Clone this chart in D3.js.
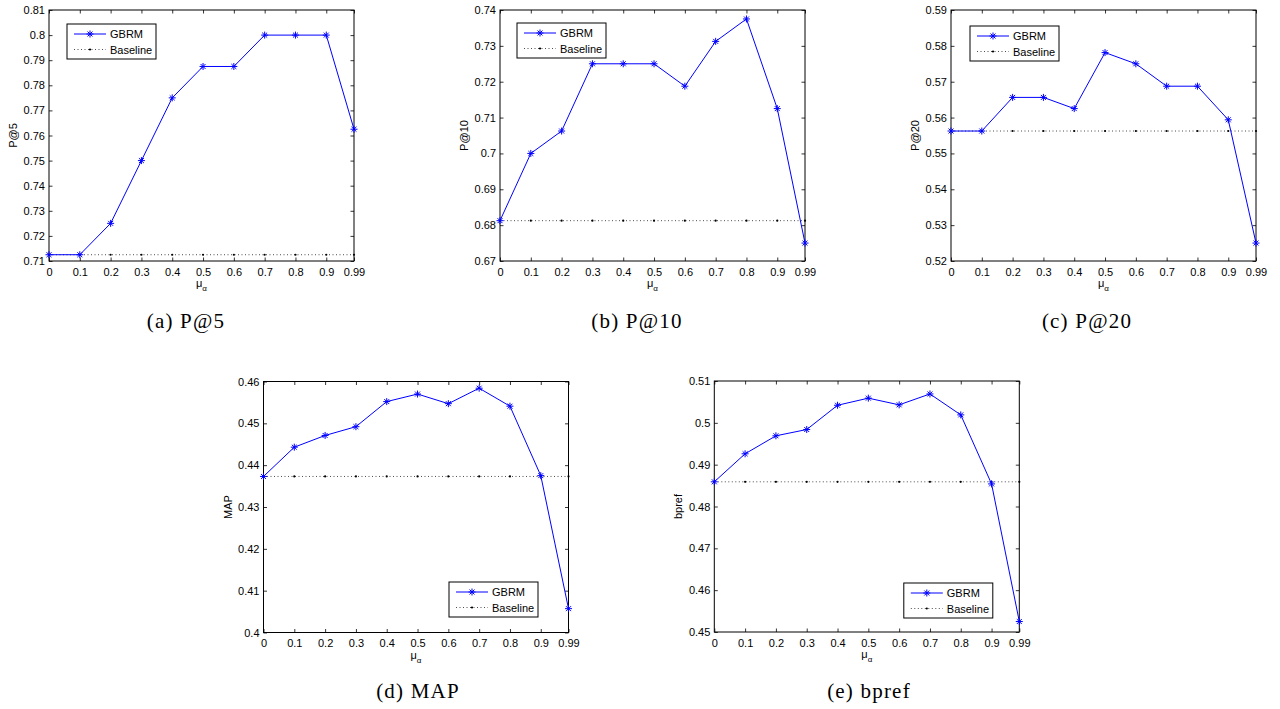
<!DOCTYPE html>
<html>
<head>
<meta charset="utf-8">
<script src="https://cdn.jsdelivr.net/npm/d3@7"></script>
<style>
  html, body { margin: 0; padding: 0; background: #fff; }
  svg { display: block; }
  .tick text { font-family: "Liberation Sans", Arial, sans-serif; font-size: 11px; fill: #000; }
  .tick line { stroke: #000; stroke-width: 0.8; }
</style>
</head>
<body>
<svg id="chart" width="1280" height="709"></svg>
<script>
// ---------- data ----------
const muAlpha = [0, 0.1, 0.2, 0.3, 0.4, 0.5, 0.6, 0.7, 0.8, 0.9, 0.99];
const xTickLabels = ["0", "0.1", "0.2", "0.3", "0.4", "0.5", "0.6", "0.7", "0.8", "0.9", "0.99"];

const seriesNames = ["GBRM", "Baseline"];
const metricNames = ["P@5", "P@10", "P@20", "MAP", "bpref"];
const captions = ["(a) P@5", "(b) P@10", "(c) P@20", "(d) MAP", "(e) bpref"];

const gbrmP5   = [0.7125, 0.7125, 0.725, 0.75, 0.775, 0.7875, 0.7875, 0.8, 0.8, 0.8, 0.7625];
const gbrmP10  = [0.68125, 0.7, 0.70625, 0.725, 0.725, 0.725, 0.71875, 0.73125, 0.7375, 0.7125, 0.675];
const gbrmP20  = [0.55625, 0.55625, 0.565625, 0.565625, 0.5625, 0.578125, 0.575, 0.56875, 0.56875, 0.559375, 0.525];
const gbrmMAP  = [0.4373, 0.4443, 0.4471, 0.4492, 0.4552, 0.4570, 0.4547, 0.4584, 0.4541, 0.4375, 0.4057];
const gbrmBpref= [0.4859, 0.4926, 0.4969, 0.4984, 0.5042, 0.5059, 0.5043, 0.5069, 0.5019, 0.4854, 0.4525];

const baselineP5 = 0.7125;
const baselineP10 = 0.68125;
const baselineP20 = 0.55625;
const baselineMAP = 0.4373;
const baselineBpref = 0.4859;

const yTicksP5    = [0.71, 0.72, 0.73, 0.74, 0.75, 0.76, 0.77, 0.78, 0.79, 0.8, 0.81];
const yTicksP10   = [0.67, 0.68, 0.69, 0.7, 0.71, 0.72, 0.73, 0.74];
const yTicksP20   = [0.52, 0.53, 0.54, 0.55, 0.56, 0.57, 0.58, 0.59];
const yTicksMAP   = [0.4, 0.41, 0.42, 0.43, 0.44, 0.45, 0.46];
const yTicksBpref = [0.45, 0.46, 0.47, 0.48, 0.49, 0.5, 0.51];

// ---------- layout ----------
const W = 305, H = 251;
const panels = [
  { x: 49,    y: 10,    gbrm: gbrmP5,    base: baselineP5,    ticks: yTicksP5,    label: metricNames[0], cap: captions[0], capX: 186, capY: 328, leg: [18, 14] },
  { x: 500,   y: 10,    gbrm: gbrmP10,   base: baselineP10,   ticks: yTicksP10,   label: metricNames[1], cap: captions[1], capX: 637, capY: 328, leg: [17, 13] },
  { x: 951,   y: 10,    gbrm: gbrmP20,   base: baselineP20,   ticks: yTicksP20,   label: metricNames[2], cap: captions[2], capX: 1087, capY: 328, leg: [19, 16] },
  { x: 263.5, y: 381.5, gbrm: gbrmMAP,   base: baselineMAP,   ticks: yTicksMAP,   label: metricNames[3], cap: captions[3], capX: 418, capY: 698, leg: [185.5, 200.5] },
  { x: 714.3, y: 381,   gbrm: gbrmBpref, base: baselineBpref, ticks: yTicksBpref, label: metricNames[4], cap: captions[4], capX: 869, capY: 698, leg: [189.5, 202] }
];

const blue = "#0000ff";
const svg = d3.select("#chart");

function asterisk(sel, r) {
  const d = r * 0.7071;
  sel.append("path")
    .attr("d", `M0,${-r}L0,${r}M${-r},0L${r},0M${-d},${-d}L${d},${d}M${-d},${d}L${d},${-d}`)
    .attr("stroke", blue).attr("stroke-width", 1).attr("fill", "none");
}

panels.forEach(p => {
  const g = svg.append("g").attr("transform", `translate(${p.x},${p.y})`);
  const x = d3.scaleLinear().domain([0, 0.99]).range([0, W]);
  const y = d3.scaleLinear().domain([p.ticks[0], p.ticks[p.ticks.length - 1]]).range([H, 0]);

  // axes with inward ticks on all four sides
  const tl = 3.5;
  g.append("g").attr("transform", `translate(0,${H})`)
    .call(d3.axisBottom(x).tickValues(muAlpha).tickFormat((d, i) => xTickLabels[i]).tickSizeInner(-tl).tickSizeOuter(0).tickPadding(7))
    .call(a => a.select(".domain").remove());
  g.append("g")
    .call(d3.axisTop(x).tickValues(muAlpha).tickFormat("").tickSizeInner(-tl).tickSizeOuter(0))
    .call(a => a.select(".domain").remove());
  g.append("g")
    .call(d3.axisLeft(y).tickValues(p.ticks).tickFormat(d => String(d)).tickSizeInner(-tl).tickSizeOuter(0).tickPadding(4))
    .call(a => a.select(".domain").remove());
  g.append("g").attr("transform", `translate(${W},0)`)
    .call(d3.axisRight(y).tickValues(p.ticks).tickFormat("").tickSizeInner(-tl).tickSizeOuter(0))
    .call(a => a.select(".domain").remove());

  // box
  g.append("rect").attr("x", 0).attr("y", 0).attr("width", W).attr("height", H)
    .attr("fill", "none").attr("stroke", "#000").attr("stroke-width", 1);

  // baseline: dotted with dot markers
  g.append("path")
    .datum(muAlpha.map(v => [v, p.base]))
    .attr("d", d3.line().x(d => x(d[0])).y(d => y(d[1])))
    .attr("fill", "none").attr("stroke", "#000").attr("stroke-width", 0.7).attr("stroke-dasharray", "1,2.5");
  g.selectAll(".bdot").data(muAlpha).enter().append("circle")
    .attr("cx", d => x(d)).attr("cy", y(p.base)).attr("r", 1.1).attr("fill", "#000");

  // GBRM line
  const pts = muAlpha.map((v, i) => [v, p.gbrm[i]]);
  g.append("path").datum(pts)
    .attr("d", d3.line().x(d => x(d[0])).y(d => y(d[1])))
    .attr("fill", "none").attr("stroke", blue).attr("stroke-width", 1);
  pts.forEach(d => {
    const m = g.append("g").attr("transform", `translate(${x(d[0])},${y(d[1])})`);
    asterisk(m, 3.5);
  });

  // axis labels
  g.append("text")
    .attr("transform", `translate(-36,${H / 2}) rotate(-90)`)
    .attr("text-anchor", "middle").attr("dominant-baseline", "central")
    .style("font-family", "'Liberation Sans', Arial, sans-serif").style("font-size", "11px")
    .text(p.label);
  const xl = g.append("text")
    .attr("x", W / 2).attr("y", H + 26)
    .attr("text-anchor", "middle")
    .style("font-family", "'Liberation Sans', Arial, sans-serif").style("font-size", "11px");
  xl.append("tspan").text("\u03bc");
  xl.append("tspan").attr("dy", 4).style("font-size", "8px").text("\u03b1");

  // legend
  const lg = g.append("g").attr("transform", `translate(${p.leg[0]},${p.leg[1]})`);
  lg.append("rect").attr("width", 89).attr("height", 35)
    .attr("fill", "#fff").attr("stroke", "#000").attr("stroke-width", 1);
  const r1 = 10, r2 = 25.5, lx0 = 7, lx1 = 39;
  lg.append("line").attr("x1", lx0).attr("x2", lx1).attr("y1", r1).attr("y2", r1)
    .attr("stroke", blue).attr("stroke-width", 1);
  asterisk(lg.append("g").attr("transform", `translate(${(lx0 + lx1) / 2},${r1})`), 3.5);
  lg.append("line").attr("x1", lx0).attr("x2", lx1).attr("y1", r2).attr("y2", r2)
    .attr("stroke", "#000").attr("stroke-width", 0.7).attr("stroke-dasharray", "1,2.5");
  lg.append("circle").attr("cx", (lx0 + lx1) / 2).attr("cy", r2).attr("r", 1.1).attr("fill", "#000");
  [seriesNames[0], seriesNames[1]].forEach((t, i) => {
    lg.append("text").attr("x", 43).attr("y", i === 0 ? r1 : r2)
      .attr("dominant-baseline", "central")
      .style("font-family", "'Liberation Sans', Arial, sans-serif").style("font-size", "11px")
      .text(t);
  });

  // caption
  svg.append("text")
    .attr("x", p.capX).attr("y", p.capY)
    .attr("text-anchor", "middle")
    .style("font-family", "'Liberation Serif', 'Times New Roman', serif").style("font-size", "21px")
    .style("letter-spacing", "1.2px")
    .text(p.cap);
});
</script>
</body>
</html>
